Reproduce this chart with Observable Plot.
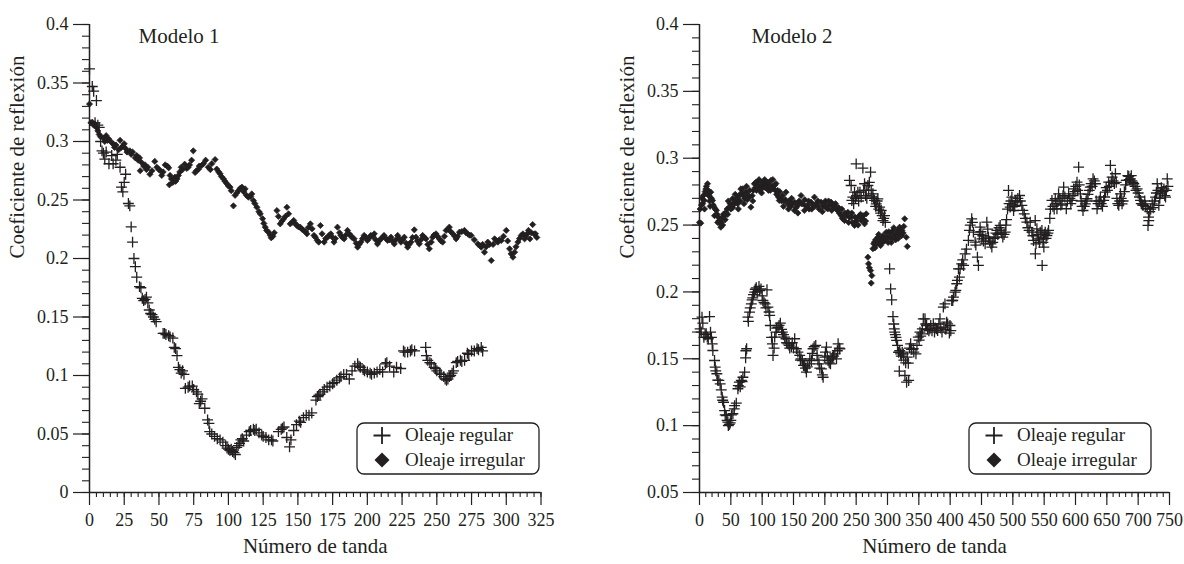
<!DOCTYPE html>
<html><head><meta charset="utf-8">
<script src="https://cdn.jsdelivr.net/npm/d3@7"></script>
<script src="https://cdn.jsdelivr.net/npm/@observablehq/plot@0.6"></script>
<style>
body{margin:0;background:#fff;}
#wrap{position:relative;width:1184px;height:564px;overflow:hidden;background:#fff;font-family:"Liberation Serif",serif;color:#231f20;}
.panel{position:absolute;top:0;}
.panel text{font-family:"Liberation Serif",serif;}
.legend{position:absolute;}
</style></head>
<body><div id="wrap"></div>
<script>
const ink = "#231f20";
const serif = "Liberation Serif";

// ---------- Modelo 1 ----------
const m1XTicks = [0,25,50,75,100,125,150,175,200,225,250,275,300,325];
const m1YTicks = [0,0.05,0.1,0.15,0.2,0.25,0.3,0.35,0.4];
const m1Regular = [[0,0.362],[2,0.347],[3,0.343],[4,0.316],[5,0.335],[6,0.314],[7,0.312],[8,0.300],[9,0.292],[10,0.290],[11,0.285],[12,0.291],[14,0.281],[16,0.288],[17,0.281],[19,0.284],[20,0.289],[22,0.278],[23,0.261],[24,0.257],[25,0.265],[26,0.272],[28,0.247],[29,0.245],[30,0.227],[31,0.214],[32,0.200],[33,0.193],[34,0.184],[36,0.176],[37,0.175],[38,0.166],[39,0.164],[40,0.165],[41,0.167],[42,0.162],[43,0.156],[44,0.153],[45,0.152],[46,0.150],[47,0.148],[48,0.146],[53,0.136],[54,0.136],[55,0.135],[57,0.134],[58,0.133],[60,0.132],[61,0.124],[62,0.123],[63,0.117],[64,0.107],[65,0.105],[66,0.102],[67,0.104],[68,0.101],[69,0.089],[71,0.090],[72,0.091],[74,0.091],[75,0.088],[77,0.086],[78,0.084],[79,0.076],[80,0.078],[81,0.080],[83,0.072],[85,0.062],[86,0.059],[86.5,0.052],[88,0.050],[90,0.048],[92,0.046],[94,0.045],[96,0.043],[98,0.040],[99,0.038],[100,0.037],[101,0.036],[102,0.037],[103,0.035],[104,0.034],[105,0.0325],[106,0.0385],[107,0.040],[108,0.042],[109,0.045],[110,0.046],[111,0.044],[113,0.049],[115,0.052],[116,0.053],[118,0.054],[119,0.053],[120,0.054],[122,0.051],[124,0.049],[125,0.048],[127,0.047],[129,0.045],[131,0.045],[132,0.044],[136,0.052],[138,0.054],[139,0.055],[140,0.056],[142,0.047],[144,0.039],[145,0.045],[147,0.053],[149,0.058],[151,0.061],[152,0.060],[154,0.064],[156,0.066],[158,0.066],[160,0.068],[163,0.079],[164,0.082],[165,0.083],[166,0.084],[168,0.086],[169,0.088],[171,0.090],[173,0.091],[175,0.093],[176,0.094],[178,0.096],[180,0.098],[181,0.099],[183,0.101],[185,0.101],[187,0.097],[189,0.104],[191,0.108],[193,0.110],[194,0.108],[195,0.107],[197,0.105],[198,0.104],[200,0.103],[202,0.102],[203,0.101],[205,0.102],[207,0.103],[209,0.105],[211,0.103],[213,0.110],[214,0.111],[216,0.108],[219,0.103],[221,0.107],[224,0.106],[226,0.121],[227,0.120],[229,0.120],[231,0.121],[232,0.122],[234,0.121],[242,0.124],[242.5,0.117],[243.5,0.113],[245,0.111],[246,0.110],[248,0.107],[249,0.106],[250,0.104],[252,0.102],[253,0.101],[255,0.099],[256,0.097],[257,0.096],[258,0.097],[259,0.099],[260,0.100],[261,0.102],[262,0.104],[264,0.111],[265,0.112],[267,0.113],[268,0.112],[270,0.113],[272,0.119],[273,0.118],[275,0.121],[277,0.121],[279,0.123],[280,0.122],[282,0.124],[283,0.121]];
const m1Irregular = [[0,0.332],[1,0.316],[2,0.3165],[3,0.314],[4,0.315],[5,0.312],[6,0.309],[7,0.306],[8,0.304],[10,0.303],[11,0.300],[12,0.305],[13,0.301],[14,0.302],[16,0.299],[17,0.298],[18,0.295],[19,0.297],[21,0.293],[22,0.301],[23,0.295],[24,0.296],[25,0.298],[26,0.294],[27,0.291],[29,0.292],[30,0.289],[31,0.291],[33,0.286],[34,0.288],[35,0.284],[36,0.286],[36.5,0.275],[37.5,0.282],[39,0.279],[40,0.280],[41,0.276],[42,0.278],[43.5,0.272],[45,0.275],[47,0.283],[48.5,0.278],[50,0.276],[51,0.275],[52,0.271],[53,0.274],[54.5,0.280],[56,0.279],[57,0.2775],[57.5,0.263],[58,0.271],[59,0.268],[60,0.265],[61.5,0.2695],[62,0.266],[63,0.268],[64,0.271],[65,0.274],[66,0.278],[67,0.276],[68.5,0.2806],[70,0.277],[71,0.278],[72,0.280],[73.5,0.284],[74.7,0.292],[76,0.2735],[77,0.275],[78.5,0.2764],[79,0.279],[80.7,0.2795],[82,0.281],[83.6,0.284],[85.5,0.278],[87,0.276],[88,0.281],[90.4,0.2846],[91.6,0.2764],[93,0.274],[94,0.2724],[95,0.270],[96.5,0.268],[97.5,0.266],[98.8,0.264],[100,0.262],[101.2,0.261],[102,0.258],[103.6,0.245],[104.8,0.254],[106,0.256],[107.2,0.258],[108.5,0.260],[109.7,0.261],[111,0.257],[112,0.2595],[113,0.254],[114.4,0.2524],[116,0.253],[116.8,0.2552],[118,0.2495],[119,0.247],[120.5,0.2438],[122,0.240],[122.9,0.2382],[124.6,0.234],[125.5,0.230],[126.5,0.2268],[127.5,0.224],[128.9,0.2225],[130,0.220],[130.8,0.2177],[132,0.219],[133,0.222],[134.9,0.241],[136,0.236],[137.3,0.2296],[138.5,0.232],[139.7,0.2338],[141,0.236],[142.1,0.2438],[143.3,0.2382],[144.5,0.2296],[146,0.231],[147,0.2325],[148,0.230],[149.3,0.2282],[150.5,0.227],[151.7,0.2268],[153,0.225],[154.1,0.224],[155.5,0.223],[156.5,0.2211],[157.5,0.2265],[159,0.2296],[160.2,0.2254],[161.6,0.2197],[162.6,0.2182],[164,0.2154],[165,0.214],[166.2,0.2282],[167.4,0.2211],[168.9,0.214],[170,0.217],[171.3,0.2182],[172.5,0.2197],[173.7,0.2211],[175,0.218],[176,0.214],[177,0.217],[178.5,0.2268],[180,0.222],[181,0.2197],[182,0.218],[183.3,0.2168],[184.5,0.220],[185.7,0.224],[187,0.221],[188,0.2197],[189,0.218],[190.5,0.2168],[192,0.213],[193,0.2097],[194,0.212],[195.3,0.214],[196.5,0.217],[197.7,0.2197],[199,0.218],[200,0.2154],[201,0.217],[202.5,0.2197],[204,0.219],[205,0.2211],[206,0.216],[207.3,0.2125],[208.5,0.215],[209.7,0.2168],[211,0.218],[212,0.2197],[213.5,0.217],[214.6,0.2154],[216,0.216],[217,0.2182],[218,0.215],[219.4,0.2125],[220.5,0.216],[221.8,0.2197],[223,0.217],[224.2,0.214],[225.5,0.216],[226.6,0.2182],[228,0.213],[229,0.2097],[230,0.212],[231.4,0.214],[232.5,0.218],[233.8,0.2245],[235,0.2182],[236,0.215],[237.4,0.2125],[238.5,0.216],[239.8,0.2197],[241,0.218],[242.2,0.2168],[243.5,0.212],[244.6,0.2083],[246,0.214],[247,0.2182],[248,0.220],[249.4,0.2211],[250.5,0.219],[251.8,0.2168],[253,0.215],[254.2,0.214],[255.5,0.219],[256.7,0.224],[258,0.225],[259,0.2268],[260,0.223],[261.5,0.2211],[263,0.219],[263.9,0.2168],[265,0.219],[266.3,0.2225],[268,0.223],[269.9,0.224],[271,0.222],[272.3,0.2211],[273.5,0.220],[274.7,0.2197],[277,0.216],[279.5,0.2125],[281,0.211],[282,0.2097],[283,0.212],[284.3,0.2054],[285.5,0.210],[286.7,0.214],[288,0.212],[289.2,0.1983],[290.5,0.212],[291.6,0.2168],[293,0.215],[294,0.214],[295,0.216],[296.4,0.2154],[298,0.219],[300,0.224],[301,0.215],[302.4,0.2083],[303.5,0.204],[304.8,0.2011],[306,0.2054],[307,0.210],[308.4,0.214],[309.5,0.217],[310.8,0.2197],[312,0.221],[313.2,0.2168],[314,0.219],[315,0.2211],[316,0.224],[317,0.2168],[318,0.222],[319,0.229],[320,0.221],[321,0.2211],[322,0.218]];

// ---------- Modelo 2 ----------
const m2XTicks = [0,50,100,150,200,250,300,350,400,450,500,550,600,650,700,750];
const m2YTicks = [0.05,0.1,0.15,0.2,0.25,0.3,0.35,0.4];
const m2Regular = [[1,0.1724],[2.7,0.170],[4,0.1811],[5.3,0.1766],[7,0.166],[9,0.168],[10.7,0.1687],[12.4,0.1662],[14,0.165],[16,0.1816],[17.6,0.1699],[19,0.166],[20.3,0.1612],[21.3,0.1562],[24,0.1487],[25,0.1437],[26,0.141],[27.7,0.1388],[29,0.134],[30.9,0.1338],[33,0.1313],[34.7,0.1268],[36.2,0.1213],[37,0.119],[38.4,0.1175],[40,0.1113],[41,0.108],[42.7,0.1076],[44,0.104],[45.3,0.1026],[46,0.100],[47.5,0.1009],[49,0.102],[50,0.1039],[51,0.108],[53.3,0.1089],[55.5,0.1126],[56,0.115],[58.7,0.1168],[61.3,0.1276],[62,0.130],[63.5,0.1325],[65,0.129],[66.7,0.1338],[68,0.133],[69.3,0.1362],[72,0.14],[73.6,0.1507],[74,0.156],[75.2,0.1575],[77.3,0.1811],[78,0.178],[79.9,0.1849],[81,0.188],[82.7,0.1911],[84,0.194],[85,0.1956],[86,0.198],[88,0.1998],[89,0.202],[90.6,0.2031],[92,0.200],[94.9,0.2041],[96,0.201],[98.1,0.2023],[100,0.197],[101.2,0.1936],[103,0.192],[104.8,0.1911],[106,0.188],[107.7,0.2016],[109.2,0.1886],[111,0.185],[112,0.1824],[113,0.1749],[115,0.166],[116.3,0.1612],[117.3,0.1525],[119,0.158],[120,0.1662],[122,0.170],[123,0.173],[125.3,0.1736],[127,0.175],[129,0.1766],[131,0.172],[132.2,0.1699],[134,0.168],[136,0.1662],[138,0.165],[139,0.162],[141.3,0.1612],[143,0.160],[144,0.158],[146.6,0.1587],[148,0.162],[150,0.158],[151.9,0.165],[154.6,0.1575],[157,0.155],[159.9,0.1525],[161,0.149],[162,0.150],[164.2,0.1487],[166,0.145],[167.9,0.145],[169,0.143],[170.6,0.14],[172,0.144],[174.9,0.1462],[176,0.150],[178.6,0.1487],[180,0.154],[181.2,0.1575],[183,0.159],[185.5,0.16],[187.6,0.1525],[189,0.149],[190.8,0.1462],[192,0.143],[194.6,0.1425],[196,0.138],[197.3,0.1362],[199.9,0.1512],[201,0.155],[202.6,0.1587],[204,0.152],[205.2,0.1487],[207,0.147],[209,0.1462],[210,0.150],[212.2,0.1512],[214,0.152],[216,0.1537],[218.6,0.15],[220,0.156],[221.2,0.1612],[223,0.158],[224,0.1575],
[239.4,0.2834],[242,0.2796],[243.1,0.2684],[244.7,0.2709],[246,0.266],[247.4,0.2746],[249,0.270],[250,0.2958],[251,0.272],[252.7,0.2746],[254,0.268],[256,0.2746],[258,0.2709],[260.7,0.2926],[262,0.276],[263.4,0.2809],[265,0.272],[266,0.2759],[267,0.270],[268.7,0.2796],[270,0.276],[271,0.282],[273,0.2896],[274,0.2759],[275,0.271],[276.7,0.2734],[278,0.270],[279.3,0.2684],[281,0.264],[282,0.2659],[283.5,0.268],[284.6,0.2696],[286,0.262],[287.4,0.2634],[289,0.259],[290,0.2609],[291.5,0.257],[292.7,0.2534],[294,0.255],[295.3,0.2571],[296.5,0.252],
[303.4,0.2173],[305,0.2023],[306.7,0.1941],[308.7,0.1816],[310,0.176],[310.8,0.1724],[311.5,0.1699],[312.5,0.168],[313.5,0.166],[314.5,0.1637],[316,0.16],[317.7,0.1549],[318.8,0.1407],[319.5,0.156],[320.9,0.1537],[322,0.152],[323.5,0.155],[325.2,0.1537],[326,0.149],[327.8,0.1375],[329,0.147],[330.5,0.1325],[331.5,0.1512],[333.2,0.1467],[333.8,0.1338],[335,0.158],[336.9,0.1612],[338,0.157],[341.1,0.1575],[342,0.155],[345.4,0.1537],[347,0.160],[349.1,0.1662],[350.5,0.164],[351.8,0.1699],[353,0.167],[354.4,0.1687],[355.5,0.1724],[357.1,0.1799],[359.8,0.1799],[361,0.176],[362.4,0.1749],[364,0.172],[366,0.171],[367.7,0.1724],[369,0.175],[371,0.171],[373.1,0.1762],[375,0.170],[376,0.173],[378.4,0.1724],[380,0.1712],[382,0.176],[383.7,0.1799],[385,0.173],[387,0.170],[389.1,0.1886],[390,0.1737],[391.7,0.1911],[393,0.172],[394.4,0.1774],[396,0.1761],[398.7,0.1692],[399.7,0.1749],[401,0.171],[402.5,0.1936],[404.1,0.1936],[405.2,0.1961],[407.8,0.1998],[409,0.2011],[410.5,0.2061],[411.5,0.2086],[413.2,0.2173],[414.7,0.2111],[415.8,0.2173],[418.4,0.221],[420,0.224],[421.5,0.2198],[423.8,0.2285],[426,0.232],[429.1,0.2385],[430.7,0.246],[432,0.250],[434.4,0.2547],[435.5,0.252],[437.1,0.2447],[439.8,0.2372],[441,0.235],[443.5,0.226],[445.1,0.2198],[446.5,0.243],[447.8,0.2484],[449,0.245],[450.5,0.2397],[452,0.242],[453,0.238],[455.8,0.236],[457,0.240],[458.5,0.2522],[460,0.247],[461.1,0.241],[463,0.238],[465,0.236],[466.5,0.2335],[468,0.237],[470,0.240],[471.8,0.241],[473,0.244],[474.5,0.246],[476,0.243],[478,0.248],[479.8,0.2497],[481,0.246],[482,0.244],[484,0.241],[486,0.243],[487.8,0.2447],[489,0.250],[490,0.254],[491.5,0.262],[493.1,0.2759],[494,0.266],[495.8,0.2634],[497,0.268],[498.5,0.2709],[500,0.265],[501.2,0.2609],[503,0.264],[504,0.268],[506.5,0.2671],[508,0.270],[510.7,0.2721],[512,0.268],[514.4,0.2647],[516,0.261],[518.2,0.2584],[520,0.255],[522.4,0.2522],[524,0.248],[526,0.246],[527.7,0.2522],[530.4,0.2447],[532,0.242],[533,0.2385],[535.7,0.2534],[535.9,0.2285],[537,0.236],[538.4,0.2472],[540,0.243],[541.1,0.2397],[542.5,0.237],[543.7,0.2447],[545,0.241],[546.4,0.246],[546.8,0.2198],[548,0.237],[549,0.2397],[549.5,0.2335],[550.5,0.243],[551.7,0.2447],[553,0.240],[554.4,0.2422],[556,0.244],[557,0.246],[559,0.255],[560,0.262],[562.4,0.2684],[564,0.264],[566,0.262],[567.7,0.2697],[569,0.266],[570.4,0.2622],[572,0.268],[573,0.2734],[575,0.270],[576.5,0.265],[578.4,0.2659],[580,0.272],[581.1,0.2784],[583,0.271],[585.3,0.2622],[587,0.268],[589,0.2734],[591,0.270],[592.5,0.266],[594.4,0.2684],[596,0.272],[597,0.2771],[599,0.275],[600.5,0.279],[602.4,0.2821],[603.5,0.276],[605,0.2933],[606,0.280],[607.8,0.2734],[609,0.268],[610.5,0.264],[612,0.2609],[614,0.264],[615.7,0.2659],[617,0.268],[618.4,0.2697],[620,0.273],[622,0.276],[623.7,0.2784],[625,0.281],[626.5,0.279],[628,0.2846],[630,0.283],[631.7,0.2809],[633,0.268],[634.4,0.2622],[636,0.266],[638,0.268],[639.7,0.2709],[641,0.266],[643,0.264],[645,0.2684],[646.5,0.271],[647.7,0.2746],[649,0.278],[651,0.276],[653,0.2821],[654,0.279],[655.7,0.2946],[657,0.282],[658.4,0.2859],[660,0.283],[662,0.281],[663.7,0.2884],[665,0.282],[666,0.270],[667.5,0.266],[669,0.2647],[670.5,0.268],[671.7,0.2734],[673,0.270],[674.3,0.2659],[676,0.268],[678,0.275],[680,0.280],[681,0.2834],[682.3,0.2834],[683.5,0.287],[685,0.2864],[686,0.284],[687.7,0.2846],[689,0.287],[690,0.283],[691.5,0.282],[693,0.2809],[695,0.279],[696.5,0.276],[698.4,0.2771],[700,0.274],[702,0.271],[703.7,0.2684],[705,0.266],[707,0.265],[709,0.2647],[710.5,0.268],[712,0.264],[714.4,0.2622],[715.7,0.2497],[716.5,0.256],[717,0.2534],[718.5,0.260],[720,0.262],[722.4,0.2659],[724,0.263],[726,0.268],[727.7,0.2709],[729,0.274],[730.4,0.2809],[731.5,0.276],[733,0.2647],[734.5,0.270],[735.7,0.2734],[737,0.278],[739,0.275],[741.1,0.2771],[742.5,0.272],[743.7,0.2709],[745,0.276],[746.4,0.2846],[747.5,0.279]];
const m2Irregular = [[0,0.252],[1,0.262],[2,0.2514],[3,0.265],[4,0.270],[5,0.266],[6,0.272],[7.5,0.2684],[9,0.275],[10,0.277],[11,0.279],[12.8,0.2809],[14,0.276],[15,0.272],[16,0.268],[18,0.2746],[19,0.270],[20.8,0.2684],[22,0.265],[23.5,0.2634],[25,0.262],[27,0.261],[28,0.258],[30,0.256],[31.5,0.2534],[33,0.251],[34,0.2484],[35,0.252],[36.7,0.2559],[38,0.258],[40,0.257],[42,0.2596],[44,0.262],[45,0.258],[47.3,0.2634],[49,0.266],[50,0.262],[52.8,0.2697],[54,0.265],[56,0.267],[58,0.2684],[60,0.270],[61,0.266],[63.5,0.2721],[65,0.268],[67,0.274],[68.8,0.2771],[70,0.272],[72,0.270],[74,0.2746],[76,0.269],[78,0.272],[79.5,0.2709],[82,0.2634],[84,0.272],[86,0.276],[87.5,0.2809],[89,0.278],[91,0.276],[92.8,0.2821],[94,0.279],[96,0.276],[98,0.2796],[100,0.282],[101,0.278],[103.5,0.2809],[105,0.278],[107,0.280],[108.8,0.2784],[110,0.276],[112,0.280],[114,0.2834],[116,0.279],[118,0.277],[119.5,0.2796],[121,0.276],[123,0.273],[124.7,0.2759],[126,0.271],[127.3,0.2684],[129,0.270],[131,0.268],[132.6,0.2721],[135,0.268],[138,0.2746],[140.7,0.2659],[143,0.268],[146,0.264],[148,0.266],[151.4,0.2609],[154,0.263],[156.7,0.2646],[159,0.268],[162,0.2721],[165,0.266],[167.4,0.2609],[170,0.264],[172.7,0.2646],[175,0.262],[178,0.2671],[181,0.265],[183.4,0.2709],[186,0.266],[188.7,0.2646],[191,0.262],[194,0.2671],[197,0.264],[199.4,0.2659],[202,0.263],[204.7,0.2621],[207,0.265],[210,0.2671],[212,0.264],[215.4,0.2646],[218,0.262],[220.7,0.2609],[223,0.259],[226,0.2571],[228,0.255],[231.4,0.2534],[234,0.257],[236.7,0.2596],[239,0.256],[242,0.2559],[244,0.252],[247.4,0.2497],[250,0.253],[252.7,0.2559],[255,0.257],[258,0.2534],[260,0.255],[263.4,0.2509],[266,0.2584],[268.7,0.226],[269.8,0.221],[271,0.218],[273,0.216],[274,0.2066],[275,0.2122],[276.7,0.2323],[278,0.236],[279.3,0.2373],[281,0.239],[283,0.236],[284.6,0.2409],[287,0.238],[289,0.2347],[291,0.240],[293,0.2421],[295,0.238],[298,0.2446],[300,0.241],[301,0.237],[303.4,0.2409],[305,0.244],[307,0.240],[308.7,0.2459],[311,0.242],[314,0.2434],[316,0.246],[317,0.240],[319.3,0.2484],[321,0.245],[322.5,0.2421],[325,0.244],[327.4,0.2547],[330,0.2409],[331.6,0.234],
[8,0.262],[13,0.273],[17,0.264],[24,0.257],[29,0.252],[37,0.250],[41,0.254],[46,0.268],[53,0.263],[57,0.273],[62,0.262],[66,0.277],[71,0.266],[75,0.279],[80,0.276],[85,0.268],[90,0.282],[95,0.284],[99,0.274],[104,0.284],[109,0.282],[113,0.276],[117,0.284],[122,0.281],[128,0.275],[134,0.264],[137,0.269],[142,0.262],[147,0.270],[152,0.267],[157,0.259],[163,0.266],[168,0.269],[174,0.268],[179,0.262],[184,0.264],[189,0.268],[196,0.260],[201,0.268],[206,0.268],[211,0.261],[217,0.266],[222,0.263],[227,0.262],[232,0.259],[238,0.252],[243,0.259],[248,0.256],[253,0.250],[257,0.258],[261,0.257],[265,0.253],[280,0.233],[286,0.243],[292,0.237],[297,0.240],[302,0.245],[306,0.237],[310,0.248],[313,0.239],[318,0.244],[323,0.246],[326,0.249]];

const axisTitleY = "Coeficiente de reflexión";
const axisTitleX = "Número de tanda";
const legendLabels = ["Oleaje regular", "Oleaje irregular"];

function minorTicks(lo, hi, step) {
  const n = Math.round((hi - lo) / step);
  return d3.range(n + 1).map(i => +(lo + i * step).toFixed(4));
}

function panel({title, xTicks, yTicks, xMinorStep, yMinorStep, regular, irregular, marginLeft, marginRight, titleDx}) {
  const xDom = [xTicks[0], xTicks[xTicks.length - 1]];
  const yDom = [yTicks[0], yTicks[yTicks.length - 1]];
  return Plot.plot({
    width: 592, height: 564,
    marginLeft, marginRight, marginTop: 24, marginBottom: 72,
    x: {domain: xDom},
    y: {domain: yDom},
    style: {fontFamily: serif, fontSize: "18px", color: ink, background: "white", overflow: "visible"},
    marks: [
      Plot.axisY({ticks: minorTicks(yDom[0], yDom[1], yMinorStep), tickSize: 7, tickFormat: () => "", label: null, strokeWidth: 1.1}),
      Plot.axisY({ticks: yTicks, tickSize: 16, tickPadding: 5, tickFormat: d => String(d), label: null, strokeWidth: 1.2, fontSize: 18, fontFamily: serif}),
      Plot.axisX({ticks: minorTicks(xDom[0], xDom[1], xMinorStep), tickSize: 5, tickFormat: () => "", label: null, strokeWidth: 1.1}),
      Plot.axisX({ticks: xTicks, tickSize: 13, tickPadding: 8, tickFormat: d => String(d), label: null, strokeWidth: 1.2, fontSize: 18, fontFamily: serif}),
      Plot.ruleX([xDom[0]], {stroke: ink, strokeWidth: 1.5}),
      Plot.ruleY([yDom[0]], {stroke: ink, strokeWidth: 1.5}),
      Plot.dot(irregular, {x: d => d[0], y: d => d[1], symbol: "diamond2", r: 2.8, fill: ink, stroke: ink, strokeWidth: 0.7}),
      Plot.dot(regular, {x: d => d[0], y: d => d[1], symbol: "plus", r: 3.6, fill: "none", stroke: ink, strokeWidth: 1.3}),
      Plot.text([title], {text: d => d, frameAnchor: "top-left", dx: titleDx, dy: 4, lineAnchor: "top", textAnchor: "start", fontSize: 21, fontFamily: serif, fill: ink}),
      Plot.text([axisTitleY], {text: d => d, frameAnchor: "left", dx: -72, rotate: -90, lineAnchor: "middle", fontSize: 21, fontFamily: serif, fill: ink}),
      Plot.text([axisTitleX], {text: d => d, frameAnchor: "bottom", dy: 46, lineAnchor: "top", fontSize: 21, fontFamily: serif, fill: ink})
    ]
  });
}

function legend(left, top) {
  const ns = "http://www.w3.org/2000/svg";
  const svg = document.createElementNS(ns, "svg");
  svg.setAttribute("width", 186); svg.setAttribute("height", 54);
  svg.setAttribute("class", "legend");
  svg.style.left = left + "px"; svg.style.top = top + "px";
  svg.innerHTML = `
    <rect x="1" y="1" width="182" height="51" rx="7" ry="7" fill="white" stroke="${ink}" stroke-width="1.3"/>
    <path d="M17.5,13.5H34.5M26,5V22" stroke="${ink}" stroke-width="1.8" fill="none"/>
    <path d="M26,30.5L33.5,38L26,45.5L18.5,38Z" fill="${ink}"/>
    <text x="49" y="19" font-family="'Liberation Serif', serif" font-size="19" fill="${ink}">${legendLabels[0]}</text>
    <text x="49" y="43.5" font-family="'Liberation Serif', serif" font-size="19" fill="${ink}">${legendLabels[1]}</text>`;
  return svg;
}

const wrap = document.getElementById("wrap");
const p1 = panel({title: "Modelo 1", xTicks: m1XTicks, yTicks: m1YTicks, xMinorStep: 5, yMinorStep: 0.01,
  regular: m1Regular, irregular: m1Irregular, marginLeft: 89, marginRight: 51.5, titleDx: 49});
p1.classList.add("panel"); p1.style.left = "0px";
const p2 = panel({title: "Modelo 2", xTicks: m2XTicks, yTicks: m2YTicks, xMinorStep: 10, yMinorStep: 0.01,
  regular: m2Regular, irregular: m2Irregular, marginLeft: 107, marginRight: 15, titleDx: 52});
p2.classList.add("panel"); p2.style.left = "592px";
wrap.appendChild(p1);
wrap.appendChild(p2);
wrap.appendChild(legend(356, 422));
wrap.appendChild(legend(968, 422));
</script>
</body></html>
